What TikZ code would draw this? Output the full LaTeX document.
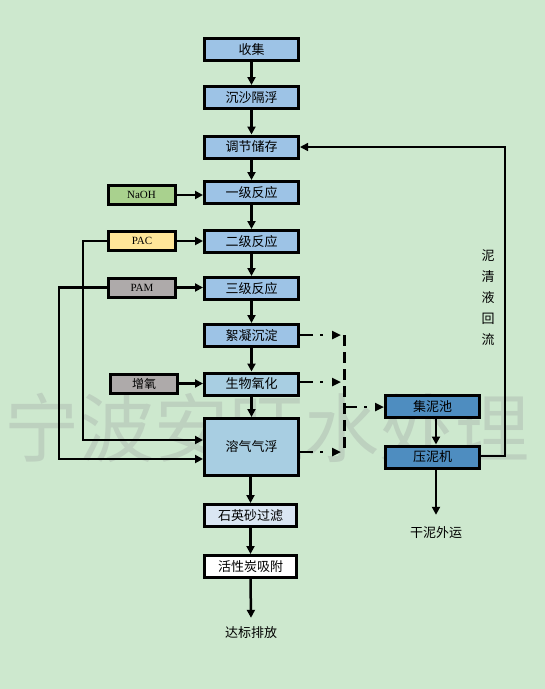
\documentclass[tikz,border=0pt]{standalone}
\usepackage{fontspec}
\setmainfont{Liberation Serif}
\newfontfamily\cjk{Noto Sans CJK SC}
\usetikzlibrary{arrows.meta}
\definecolor{bgc}{HTML}{CDE8CE}
\definecolor{blueA}{HTML}{9DC3E6}
\definecolor{blueB}{HTML}{A8CEE2}
\definecolor{blueC}{HTML}{DAE6F3}
\definecolor{blueD}{HTML}{4E8DC0}
\definecolor{naohc}{HTML}{A9D18E}
\definecolor{pacc}{HTML}{FFE699}
\definecolor{pamc}{HTML}{AEAAAA}
\definecolor{wmark}{HTML}{BDD1BF}
\tikzset{
  mainbox/.style={draw=black, line width=3pt, minimum width=94pt, minimum height=22pt, inner sep=0pt, font=\cjk\fontsize{13}{13}\selectfont},
  sidebox/.style={draw=black, line width=3pt, minimum width=67pt, minimum height=19pt, inner sep=0pt, font=\fontsize{11}{11}\selectfont},
  arr/.style={line width=2.5pt, -{Triangle[length=8pt,width=8pt]}},
  dasharr/.style={line width=2.5pt, dash pattern=on 13pt off 7pt on 3pt off 20pt, -{Triangle[length=9pt,width=8pt]}},
  vdash/.style={line width=3pt, dash pattern=on 11pt off 6pt},
  thin/.style={line width=1.5pt},
  lbl/.style={font=\cjk\fontsize{13}{13}\selectfont, inner sep=0pt},
}
\begin{document}
\begin{tikzpicture}[x=1pt,y=-1pt]
\fill[bgc] (0,0) rectangle (545,689);
\useasboundingbox (0,0) rectangle (545,689);
% watermark
\node[font=\cjk\fontsize{75}{75}\selectfont, text=wmark, inner sep=0pt] (wm) at (267,428) {宁波安旺水处理};
% main column
\node[mainbox, fill=blueA] (sj) at (251.5,49.5) {收集};
\node[mainbox, fill=blueA] (cs) at (251.5,97.5) {沉沙隔浮};
\node[mainbox, fill=blueA] (tj) at (251.5,147) {调节储存};
\node[mainbox, fill=blueA] (r1) at (251.5,192.5) {一级反应};
\node[mainbox, fill=blueA] (r2) at (251.5,241.5) {二级反应};
\node[mainbox, fill=blueA] (r3) at (251.5,288.5) {三级反应};
\node[mainbox, fill=blueA] (xn) at (251.5,335.5) {絮凝沉淀};
\node[mainbox, fill=blueB] (sw) at (251.5,384) {生物氧化};
\node[mainbox, fill=blueB, minimum height=57pt] (rq) at (251.5,447) {溶气气浮};
\node[mainbox, fill=blueC, minimum width=92pt] (sy) at (250.5,515.5) {石英砂过滤};
\node[mainbox, fill=white, minimum width=92pt] (hx) at (250.5,566.5) {活性炭吸附};
\node[lbl] (db) at (251,633) {达标排放};
% side boxes
\node[sidebox, fill=naohc] (naoh) at (141.5,195) {NaOH};
\node[sidebox, fill=pacc] (pac) at (142,241) {PAC};
\node[sidebox, fill=pamc] (pam) at (142,287.5) {PAM};
\node[sidebox, fill=pamc, font=\cjk\fontsize{12}{12}\selectfont] (zy) at (144,383.5) {增氧};
% sludge
\node[mainbox, fill=blueD, minimum width=94pt] (jn) at (432.5,406.5) {集泥池};
\node[mainbox, fill=blueD, minimum width=94pt] (yn) at (432.5,457) {压泥机};
\node[lbl] (gn) at (436,533) {干泥外运};
% main arrows
\draw[arr] (sj) -- (cs);
\draw[arr] (cs) -- (tj);
\draw[arr] (tj) -- (r1);
\draw[arr] (r1) -- (r2);
\draw[arr] (r2) -- (r3);
\draw[arr] (r3) -- (xn);
\draw[arr] (xn) -- (sw);
\draw[arr] (sw) -- (rq);
\draw[arr] (rq.south -| sy.north) -- (sy);
\draw[arr] (sy) -- (hx);
\draw[arr] (hx.south) -- ([yshift=9pt]db.north);
% side arrows
\draw[arr] (naoh.east) -- (naoh.east -| r1.west);
\draw[arr] (pac.east) -- (pac.east -| r2.west);
\draw[arr] (pam.east) -- (pam.east -| r3.west);
\draw[arr] (zy.east) -- (zy.east -| sw.west);
\coordinate (c1) at (83,440);
\coordinate (c2) at (59,459);
\draw[arr] (pac.west) -| (c1) -- (c1 -| rq.west);
\draw[arr] (pam.west) -| (c2) -- (c2 -| rq.west);
% dashed collection
\coordinate (v1) at (344,335);
\coordinate (v2) at (344,382);
\coordinate (v3) at (344,452);
\coordinate (vm) at (344,407);
\draw[dasharr] (xn.east |- v1) -- ([xshift=-3pt]v1);
\draw[dasharr] (sw.east |- v2) -- ([xshift=-3pt]v2);
\draw[dasharr] (rq.east |- v3) -- ([xshift=-3pt]v3);
\draw[vdash] (v1) -- (v3);
\draw[dasharr] (vm) -- (vm -| jn.west);
\draw[arr] (jn.south -| 436,0) -- (yn.north -| 436,0);
\draw[arr] (yn.south -| 436,0) -- ([yshift=12pt]gn.north);
% return line
\coordinate (r1c) at (505,456);
\coordinate (r2c) at (505,147);
\draw[thin, -{Triangle[length=8pt,width=8pt]}] (yn.east |- r1c) -- (r1c) -- (r2c) -- (tj.east);
\node[font=\cjk\fontsize{13}{21}\selectfont, align=center, inner sep=0pt] (hl) at (488,298) {泥\\清\\液\\回\\流};
\end{tikzpicture}
\end{document}
